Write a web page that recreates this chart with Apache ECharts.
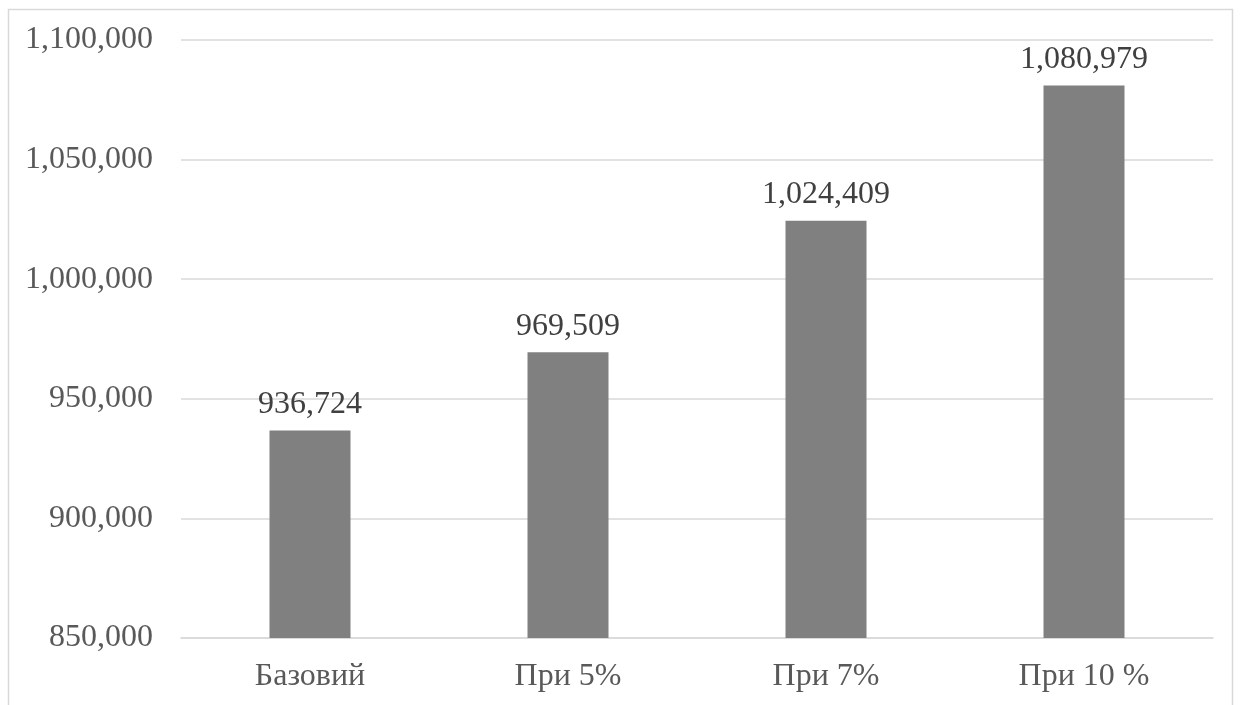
<!DOCTYPE html>
<html>
<head>
<meta charset="utf-8">
<script src="https://cdn.jsdelivr.net/npm/echarts@6/dist/echarts.min.js"></script>
<style>
html,body{margin:0;padding:0;background:#fff;}
#chart{width:1245px;height:705px;}
</style>
</head>
<body>
<div id="chart"></div>
<script>
var categories = ['Базовий', 'При 5%', 'При 7%', 'При 10 %'];
var values = [936724, 969509, 1024409, 1080979];
var yMin = 850000;
var yMax = 1100000;
var yStep = 50000;

function fmt(v) {
  return String(v).replace(/\B(?=(\d{3})+(?!\d))/g, ',');
}

var chart = echarts.init(document.getElementById('chart'));
chart.setOption({
  backgroundColor: '#ffffff',
  animation: false,
  graphic: [{
    type: 'rect',
    shape: { x: 8.5, y: 9.5, width: 1224, height: 720 },
    style: { fill: 'none', stroke: '#d9d9d9', lineWidth: 1.5 },
    z: -1
  }],
  grid: { left: 181, right: 32, top: 40, bottom: 67 },
  xAxis: {
    type: 'category',
    data: categories,
    axisLine: { lineStyle: { color: '#d9d9d9', width: 1.5 } },
    axisTick: { show: false },
    axisLabel: {
      color: '#595959',
      fontFamily: 'Liberation Serif',
      fontSize: 32,
      margin: 23
    }
  },
  yAxis: {
    type: 'value',
    min: yMin,
    max: yMax,
    interval: yStep,
    axisLine: { show: false },
    axisTick: { show: false },
    splitLine: { lineStyle: { color: '#d9d9d9', width: 1.5 } },
    axisLabel: {
      color: '#595959',
      fontFamily: 'Liberation Serif',
      fontSize: 32,
      margin: 28,
      formatter: function (v) { return fmt(v); }
    }
  },
  series: [{
    type: 'bar',
    data: values,
    barWidth: 81,
    itemStyle: { color: '#808080' },
    label: {
      show: true,
      position: 'top',
      distance: 10,
      color: '#404040',
      fontFamily: 'Liberation Serif',
      fontSize: 32,
      formatter: function (p) { return fmt(p.value); }
    }
  }]
});
</script>
</body>
</html>
